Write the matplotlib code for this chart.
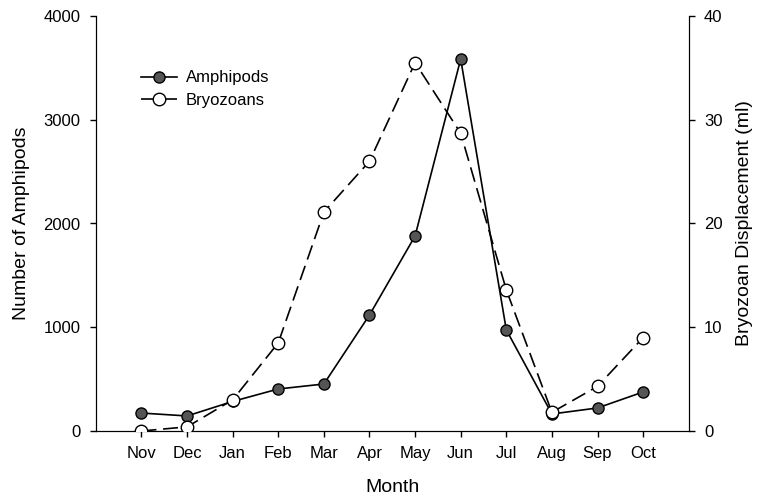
import matplotlib
matplotlib.use("Agg")
import matplotlib.pyplot as plt

# Monthly data
months = ["Nov", "Dec", "Jan", "Feb", "Mar", "Apr", "May", "Jun", "Jul", "Aug", "Sep", "Oct"]
amphipods = [173, 145, 285, 405, 453, 1118, 1880, 3585, 975, 164, 222, 376]
bryozoans = [0.0, 0.4, 3.0, 8.5, 21.1, 26.0, 35.5, 28.7, 13.6, 1.8, 4.3, 9.0]

plt.rcParams["font.family"] = ["Liberation Sans", "DejaVu Sans"]

fig = plt.figure(figsize=(7.61, 5.0), dpi=100)
ax = fig.add_axes([0.126, 0.138, 0.779, 0.830])
ax2 = ax.twinx()

x = list(range(len(months)))

l1, = ax.plot(x, amphipods, "-", color="black", lw=1.2, marker="o", ms=8,
              markerfacecolor="#555555", markeredgecolor="black", mew=1.0,
              label="Amphipods", zorder=3)
l2, = ax2.plot(x, bryozoans, color="black", lw=1.2, dashes=(9, 4), marker="o", ms=9,
               markerfacecolor="white", markeredgecolor="black", mew=1.0,
               label="Bryozoans", zorder=4)

ax.set_xlim(-1, 12)
ax.set_ylim(0, 4000)
ax2.set_ylim(0, 40)
ax.set_xticks(x)
ax.set_xticklabels(months)
ax.set_yticks([0, 1000, 2000, 3000, 4000])
ax2.set_yticks([0, 10, 20, 30, 40])

for a in (ax, ax2):
    a.spines["top"].set_visible(False)
    a.tick_params(direction="out", length=4, width=1, labelsize=12, pad=7)

ax.set_xlabel("Month", fontsize=14, labelpad=13)
ax.set_ylabel("Number of Amphipods", fontsize=14, labelpad=10)
ax2.set_ylabel("Bryozoan Displacement (ml)", fontsize=14, labelpad=10)

ax.legend(handles=[l1, l2], loc="upper left", bbox_to_anchor=(0.05, 0.905),
          frameon=False, fontsize=12, handlelength=2.2, handletextpad=0.5,
          labelspacing=0.45)

fig.savefig("out.png", dpi=100)
